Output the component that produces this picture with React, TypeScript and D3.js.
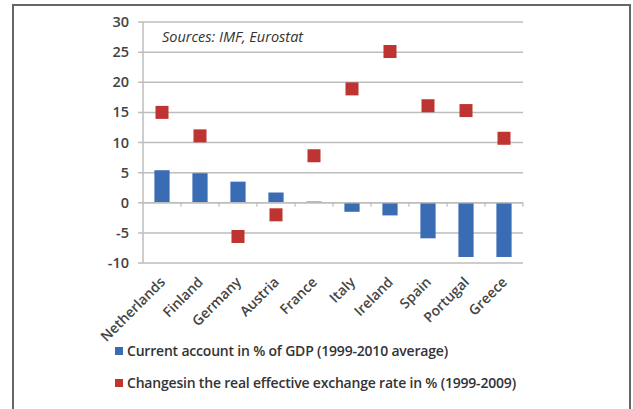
import React, { useEffect, useRef } from "react";
import * as d3 from "d3";

const countries = ["Netherlands", "Finland", "Germany", "Austria", "France", "Italy", "Ireland", "Spain", "Portugal", "Greece"];
const currentAccount = [5.4, 4.9, 3.5, 1.7, 0.2, -1.5, -2.1, -5.9, -9.0, -9.0];
const reerChange = [15.0, 11.1, -5.6, -2.0, 7.8, 18.9, 25.1, 16.1, 15.3, 10.7];
const yTicks = [30, 25, 20, 15, 10, 5, 0, -5, -10];
const legendLabels = [
  "Current account in % of GDP (1999-2010 average)",
  "Changesin the real effective exchange rate in % (1999-2009)",
];

const BLUE = "#3a6cb4";
const RED = "#be3431";

export default function App() {
  const ref = useRef<SVGSVGElement>(null);

  useEffect(() => {
    const svg = d3.select(ref.current);
    svg.selectAll("*").remove();

    const font = "'Open Sans', 'Noto Sans', sans-serif";

    // outer frame
    svg.append("path")
      .attr("d", "M13,420 L13,5 L630,5 L630,420")
      .attr("fill", "none")
      .attr("stroke", "#666")
      .attr("stroke-width", 2);

    const x = d3.scaleBand().domain(countries).range([143, 523]);
    const y = d3.scaleLinear().domain([-10, 30]).range([263, 22]);

    // gridlines
    svg.selectAll(".grid")
      .data(yTicks)
      .enter()
      .append("line")
      .attr("x1", 138)
      .attr("x2", 523)
      .attr("y1", (d) => y(d))
      .attr("y2", (d) => y(d))
      .attr("stroke", "#bdbdbd")
      .attr("stroke-width", 1.5);

    // y axis line
    svg.append("line")
      .attr("x1", 143).attr("x2", 143)
      .attr("y1", y(30)).attr("y2", y(-10))
      .attr("stroke", "#bdbdbd").attr("stroke-width", 1.5);

    // y tick labels
    svg.selectAll(".ylab")
      .data(yTicks)
      .enter()
      .append("text")
      .attr("x", 129)
      .attr("y", (d) => y(d) + 5)
      .attr("text-anchor", "end")
      .attr("font-family", font)
      .attr("font-size", 14.5)
      .attr("font-weight", 600)
      .attr("fill", "#444")
      .text((d) => d);

    // bars
    svg.selectAll(".bar")
      .data(currentAccount)
      .enter()
      .append("rect")
      .attr("x", (d, i) => x(countries[i])! + x.bandwidth() * 0.3)
      .attr("width", x.bandwidth() * 0.4)
      .attr("y", (d) => y(Math.max(0, d)))
      .attr("height", (d) => Math.abs(y(d) - y(0)))
      .attr("fill", BLUE);

    // x axis at zero with tick marks
    svg.append("line")
      .attr("x1", 143).attr("x2", 523)
      .attr("y1", y(0)).attr("y2", y(0))
      .attr("stroke", "#bdbdbd").attr("stroke-width", 1.5);
    svg.selectAll(".xtick")
      .data(countries.map((c, i) => i + 1))
      .enter()
      .append("line")
      .attr("x1", (i) => 143 + i * x.step())
      .attr("x2", (i) => 143 + i * x.step())
      .attr("y1", y(0))
      .attr("y2", y(0) + 4)
      .attr("stroke", "#bdbdbd")
      .attr("stroke-width", 1.2);

    // red squares
    const s = 13;
    svg.selectAll(".pt")
      .data(reerChange)
      .enter()
      .append("rect")
      .attr("x", (d, i) => x(countries[i])! + x.bandwidth() / 2 - s / 2)
      .attr("y", (d) => y(d) - s / 2)
      .attr("width", s)
      .attr("height", s)
      .attr("fill", RED);

    // x labels
    svg.selectAll(".xlab")
      .data(countries)
      .enter()
      .append("text")
      .attr("transform", (d) => `translate(${x(d)! + x.bandwidth() / 2 + 4},${283}) rotate(-45)`)
      .attr("text-anchor", "end")
      .attr("font-family", font)
      .attr("font-size", 14)
      .attr("font-weight", 600)
      .attr("fill", "#444")
      .text((d) => d);

    // source note
    svg.append("text")
      .attr("x", 162)
      .attr("y", 42)
      .attr("font-family", font)
      .attr("font-size", 14.5)
      .attr("font-style", "italic")
      .attr("fill", "#333")
      .text("Sources: IMF, Eurostat");

    // legend
    const legend = svg.selectAll(".leg")
      .data(legendLabels)
      .enter()
      .append("g")
      .attr("transform", (d, i) => `translate(115,${351 + i * 32})`);
    legend.append("rect")
      .attr("x", 0).attr("y", -4)
      .attr("width", 8).attr("height", 8)
      .attr("fill", (d, i) => (i === 0 ? BLUE : RED));
    legend.append("text")
      .attr("x", 12)
      .attr("y", 5)
      .attr("font-family", font)
      .attr("font-size", 14)
      .attr("font-weight", 600)
      .attr("letter-spacing", -0.2)
      .attr("fill", "#333")
      .text((d) => d);
  }, []);

  return (
    <svg
      ref={ref}
      width={633}
      height={409}
      style={{ position: "absolute", left: 0, top: 0, background: "#fff" }}
    />
  );
}
